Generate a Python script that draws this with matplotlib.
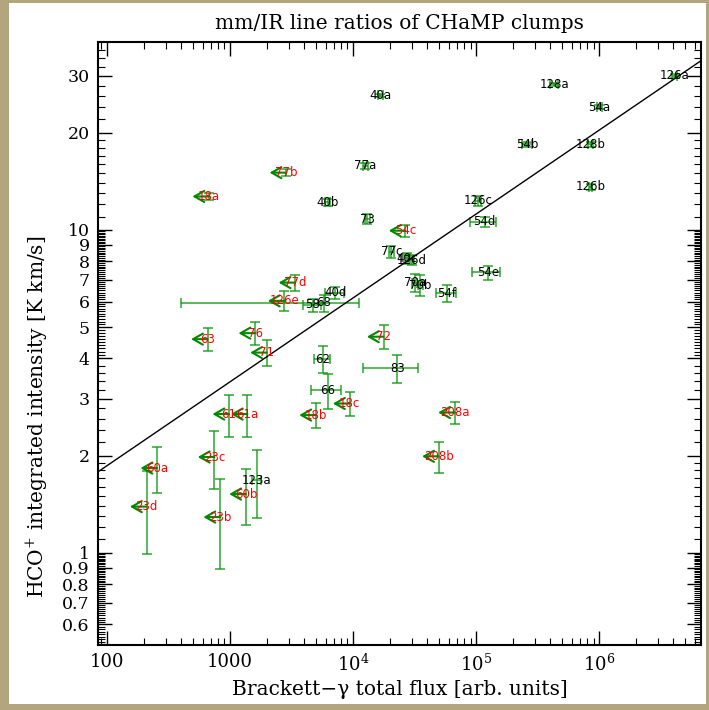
import numpy as np
import matplotlib.pyplot as plt
from matplotlib.patches import Rectangle
from matplotlib.ticker import FixedLocator, NullFormatter, LogLocator

plt.rcParams['font.family'] = 'DejaVu Serif'
plt.rcParams['mathtext.fontset'] = 'dejavuserif'

# clumps with a Br-gamma detection
names_det = ['126a', '128a', '54a', '40a', '54b', '128b', '126b', '77a', '40b', '73',
             '126c', '54d', '77c', '40c', '126d', '54e', '70a', '70b', '54f', '40d',
             '68', '58', '62', '66', '83', '123a']
flux_det = [4.1e6, 4.3e5, 1.0e6, 1.66e4, 2.6e5, 8.5e5, 8.5e5, 1.26e4, 6250, 1.30e4,
            1.03e5, 1.17e5, 2.05e4, 2.75e4, 3.0e4, 1.24e5, 3.17e4, 3.52e4, 5.8e4, 7160,
            5800, 4720, 5650, 6250, 2.28e4, 1650]
flux_err_det = [2e5, 3e4, 5e4, 800, 2.5e4, 4e4, 3e4, 600, 300, 600,
                6e3, 2.8e4, 1e3, 1.5e3, 1.5e3, 3.2e4, 1.5e3, 1.5e3, 1.1e4, 1300,
                5400, 800, 850, 1700, 1.08e4, 130]
hco_det = [30.0, 28.3, 24.0, 26.1, 18.4, 18.4, 13.6, 15.8, 12.2, 10.8,
           12.3, 10.6, 8.57, 8.17, 8.07, 7.39, 6.87, 6.75, 6.37, 6.39,
           5.94, 5.86, 3.98, 3.19, 3.73, 1.68]
hco_err_det = [0.4, 0.3, 0.3, 0.3, 0.3, 0.3, 0.3, 0.3, 0.3, 0.4,
               0.4, 0.37, 0.37, 0.3, 0.3, 0.37, 0.45, 0.5, 0.38, 0.27,
               0.37, 0.27, 0.38, 0.4, 0.38, 0.4]

# clumps with only an upper limit on Br-gamma
names_lim = ['18a', '77b', '54c', '77d', '126e', '76', '63', '71', '72', '61',
             '61a', '18b', '18c', '208a', '208b', '60a', '23d', '23c', '60b', '23b']
flux_lim = [676, 2860, 2.66e4, 3390, 2770, 1600, 659, 1990, 1.77e4, 983,
            1385, 4990, 9370, 6.7e4, 4.96e4, 256, 210, 747, 1345, 830]
hco_lim = [12.7, 15.05, 9.95, 6.87, 6.03, 4.79, 4.59, 4.17, 4.67, 2.69,
           2.69, 2.67, 2.90, 2.72, 1.99, 1.83, 1.39, 1.98, 1.52, 1.29]
hco_err_lim = [0.3, 0.4, 0.43, 0.4, 0.43, 0.38, 0.38, 0.39, 0.39, 0.4,
               0.4, 0.24, 0.24, 0.22, 0.22, 0.3, 0.4, 0.4, 0.3, 0.4]

# power-law fit: y = fit_norm * (x/100)**fit_slope
fit_norm = 1.86
fit_slope = 0.26

x_range = (84.7, 6.7e6)
y_range = (0.518, 38.3)

green = '#0a960a'
arrow_dex = 0.135

fig = plt.figure(figsize=(7.09, 7.10), dpi=100)
fig.patch.set_facecolor('#b3a57e')
fig.patches.append(Rectangle((9/709, 6/710), 697/709, 701/710, transform=fig.transFigure,
                             facecolor='white', edgecolor='none', zorder=-10))
ax = fig.add_axes([98/709, 1 - 645/710, 603/709, 603.3/710])

ax.errorbar(flux_det, hco_det, xerr=flux_err_det, yerr=hco_err_det, fmt='none',
            ecolor=green, elinewidth=1.1, capsize=3.5, capthick=1.1, alpha=0.85)
ax.errorbar(flux_lim, hco_lim, yerr=hco_err_lim, fmt='none',
            ecolor=green, elinewidth=1.1, capsize=3.5, capthick=1.1, alpha=0.85)

for x, y in zip(flux_lim, hco_lim):
    ax.annotate('', xy=(x * 10**-arrow_dex, y), xytext=(x, y),
                arrowprops=dict(arrowstyle='->,head_length=0.7,head_width=0.4',
                                color='#008800', lw=1.5, shrinkA=0, shrinkB=0))

for n, x, y in zip(names_det, flux_det, hco_det):
    ax.text(x, y, n, ha='center', va='center', fontsize=8.5, color='black',
            family='DejaVu Sans')
for n, x, y in zip(names_lim, flux_lim, hco_lim):
    ax.text(x, y, n, ha='center', va='center', fontsize=8.5, color='red',
            family='DejaVu Sans')

xx = np.array(x_range)
ax.plot(xx, fit_norm * (xx / 100) ** fit_slope, color='black', lw=1)

ax.set_xscale('log')
ax.set_yscale('log')
ax.set_xlim(*x_range)
ax.set_ylim(*y_range)

ax.xaxis.set_major_locator(FixedLocator([100, 1e3, 1e4, 1e5, 1e6]))
ax.set_xticklabels(['100', '1000', r'$10^4$', r'$10^5$', r'$10^6$'])
ax.xaxis.set_minor_locator(LogLocator(base=10, subs=np.arange(2, 10)))
ax.xaxis.set_minor_formatter(NullFormatter())

yt = [0.6, 0.7, 0.8, 0.9, 1, 2, 3, 4, 5, 6, 7, 8, 9, 10, 20, 30]
ax.yaxis.set_major_locator(FixedLocator(yt))
ax.set_yticklabels(['0.6', '0.7', '0.8', '0.9', '1', '2', '3', '4', '5', '6', '7', '8', '9',
                    '10', '20', '30'])
yminor = np.concatenate([np.arange(0.52, 1.0, 0.01), np.arange(1.1, 2.0, 0.1),
                         np.arange(2.2, 4.0, 0.2), np.arange(4.1, 10.0, 0.1),
                         np.arange(11, 20, 1), np.arange(22, 38, 2)])
ax.yaxis.set_minor_locator(FixedLocator(yminor))
ax.yaxis.set_minor_formatter(NullFormatter())

ax.tick_params(which='both', direction='in', top=True, right=True)
ax.tick_params(axis='x', labelsize=13)
ax.tick_params(axis='y', labelsize=12.5)
ax.tick_params(which='major', length=10, width=1, pad=6)
ax.tick_params(which='minor', length=5, width=0.8)
for s in ax.spines.values():
    s.set_linewidth(1.5)

ax.set_xlabel('Brackett−γ total flux [arb. units]', fontsize=14.5, labelpad=4)
ax.set_ylabel('HCO$^{+}$ integrated intensity [K km/s]', fontsize=14.5)
ax.yaxis.set_label_coords(-0.08, 0.378)
ax.set_title('mm/IR line ratios of CHaMP clumps', fontsize=14.5, pad=9)

fig.savefig('out.png', dpi=100, facecolor=fig.get_facecolor())
